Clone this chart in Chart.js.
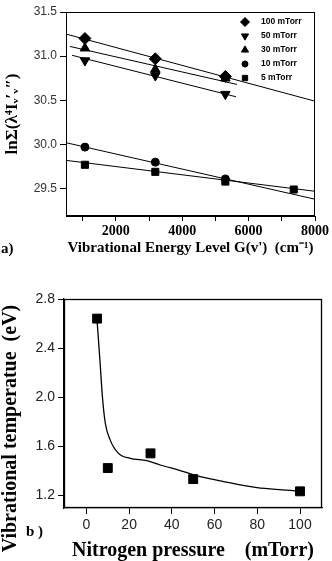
<!DOCTYPE html>
<html><head><meta charset="utf-8">
<script src="https://cdn.jsdelivr.net/npm/chart.js@4.4.1/dist/chart.umd.min.js"></script>
<style>
html,body{margin:0;padding:0;background:#fff;width:332px;height:561px;overflow:hidden;position:relative}
canvas{position:absolute;left:0}
#c1{top:0}
#c2{top:262px}
.lab{position:absolute;font:bold 15px "Liberation Serif",serif;color:#000;white-space:pre}
</style></head><body>
<canvas id="c1" width="332" height="262"></canvas>
<canvas id="c2" width="332" height="299"></canvas>
<div class="lab" style="left:1px;top:240px">a)</div>
<div class="lab" style="left:26px;top:523px">b )</div>
<script>
// ---------- Panel (a) data ----------
const levelG = [1070, 3190, 5300];
const levelG5 = [1070, 3190, 5300, 7360];
const ln_100 = [31.20, 30.97, 30.77];
const ln_50  = [30.95, 30.78, 30.57];
const ln_30  = [31.09, 30.85, 30.75];
const ln_10  = [29.97, 29.80, 29.61];
const ln_5   = [29.77, 29.69, 29.58, 29.49];
// fitted straight lines (end points)
const fit_100_x = [500, 8000],  fit_100_y = [31.25, 30.49];
const fit_50_x  = [680, 5620],  fit_50_y  = [31.01, 30.54];
const fit_30_x  = [620, 5650],  fit_30_y  = [31.11, 30.68];
const fit_10_x  = [500, 8000],  fit_10_y  = [30.02, 29.38];
const fit_5_x   = [500, 8000],  fit_5_y   = [29.82, 29.47];
const legendLabels = ['100 mTorr', '50 mTorr', '30 mTorr', '10 mTorr', '5 mTorr'];
const aXTicks = [1000, 2000, 3000, 4000, 5000, 6000, 7000, 8000];
const aXLabels = ['2000', '4000', '6000', '8000'];
const aYTicks = [29.5, 30.0, 30.5, 31.0, 31.5];

// ---------- Panel (b) data ----------
const pressure = [5, 10, 30, 50, 100];
const vibTemp  = [2.64, 1.42, 1.54, 1.33, 1.23];
const curveP = [5, 6.4, 7.5, 8.8, 11.1, 15, 20.5, 28.3, 34.5, 43.9, 53.3, 64.2, 79.9, 94, 100];
const curveT = [2.62, 2.28, 2.0, 1.79, 1.65, 1.54, 1.50, 1.48, 1.445, 1.40, 1.35, 1.31, 1.26, 1.24, 1.23];
const bXTicks = [0, 20, 40, 60, 80, 100];
const bYTicks = [1.2, 1.6, 2.0, 2.4, 2.8];

const pts = (xs, ys) => xs.map((x, i) => ({x, y: ys[i]}));
const serif = '"Liberation Serif", "Times New Roman", serif';
const sans = '"Liberation Sans", Arial, sans-serif';

const framePlugin = {
  id: 'frame',
  afterDraw(chart, args, opts) {
    const {ctx, chartArea: a} = chart;
    ctx.save();
    ctx.strokeStyle = '#000';
    ctx.lineWidth = opts.width || 1;
    ctx.strokeRect(Math.round(a.left) + 0.5, Math.round(a.top) + 0.5,
                   Math.round(a.right - a.left) - 1, Math.round(a.bottom - a.top) - 1);
    ctx.restore();
  }
};

const legendPlugin = {
  id: 'inLegend',
  afterDatasetsDraw(chart, args, opts) {
    if (!opts.labels) return;
    const {ctx, chartArea: a} = chart;
    ctx.save();
    opts.labels.forEach((t, i) => {
      const ds = chart.data.datasets[i];
      const y = a.top + 10 + i * 14;
      const x = a.right - 70;
      ctx.fillStyle = '#000';
      ctx.strokeStyle = '#000';
      Chart.helpers.drawPoint(ctx, {pointStyle: ds.pointStyle, rotation: ds.rotation || 0,
        radius: ds.pointRadius * 0.75, borderWidth: 1}, x, y);
      ctx.font = 'bold 8.5px ' + sans;
      ctx.textBaseline = 'middle';
      ctx.textAlign = 'left';
      ctx.fillText(t, x + 16, y);
    });
    ctx.restore();
  }
};

const markerDs = (label, data, style, r, rot) => ({
  label, data, pointStyle: style, pointRadius: r, rotation: rot || 0,
  backgroundColor: '#000', borderColor: '#000', borderWidth: 1, showLine: false, order: 0
});
const lineDs = (data, w) => ({
  data, showLine: true, pointRadius: 0, borderColor: '#000', borderWidth: w || 1,
  backgroundColor: '#000', fill: false, order: 1
});

new Chart(document.getElementById('c1'), {
  type: 'scatter',
  data: { datasets: [
    markerDs(legendLabels[0], pts(levelG, ln_100), 'rectRot', 6),
    markerDs(legendLabels[1], pts(levelG, ln_50), 'triangle', 5.5, 180),
    markerDs(legendLabels[2], pts(levelG, ln_30), 'triangle', 5.5),
    markerDs(legendLabels[3], pts(levelG, ln_10), 'circle', 4),
    markerDs(legendLabels[4], pts(levelG5, ln_5), 'rect', 5),
    lineDs(pts(fit_100_x, fit_100_y)),
    lineDs(pts(fit_50_x, fit_50_y)),
    lineDs(pts(fit_30_x, fit_30_y)),
    lineDs(pts(fit_10_x, fit_10_y)),
    lineDs(pts(fit_5_x, fit_5_y))
  ]},
  options: {
    responsive: false, animation: false, devicePixelRatio: 1,
    layout: { padding: {top: 12, right: 17, left: 0, bottom: 0} },
    plugins: { legend: {display: false}, tooltip: {enabled: false},
      inLegend: {labels: legendLabels}, frame: {width: 1} },
    scales: {
      x: { type: 'linear', min: 500, max: 8000,
        afterBuildTicks: s => { s.ticks = aXTicks.map(v => ({value: v})); },
        afterFit: s => { s.height = 46; },
        grid: {drawOnChartArea: false, drawTicks: true, tickLength: 5, color: '#000'},
        border: {display: true, color: '#000', width: 1},
        ticks: { autoSkip: false, maxRotation: 0, padding: 2, color: '#000',
          font: {family: serif, size: 14, weight: 'bold'},
          callback: v => aXLabels.includes(String(v)) ? String(v) : '' },
        title: { display: true, text: "Vibrational Energy Level G(v')  (cm\u207B\u00B9)", color: '#000',
          font: {family: serif, size: 15, weight: 'bold', lineHeight: 1.1}, padding: {top: 0, bottom: 6} }
      },
      y: { type: 'linear', min: 29.19, max: 31.5,
        afterBuildTicks: s => { s.ticks = aYTicks.map(v => ({value: v})); },
        afterFit: s => { s.width = 66; },
        grid: {drawOnChartArea: false, drawTicks: true, tickLength: 6, color: '#000'},
        border: {display: true, color: '#000', width: 1},
        ticks: { padding: 3, color: '#333', font: {family: sans, size: 12},
          callback: v => Number(v).toFixed(1) },
        title: { display: true, text: 'ln\u03A3(\u03BB\u2074I\u1D65\u2032\u1D65\u2033)', color: '#000',
          font: {family: serif, size: 17, weight: 'bold', lineHeight: 1.1}, padding: {top: 3, bottom: 0} }
      }
    }
  },
  plugins: [framePlugin, legendPlugin]
});

new Chart(document.getElementById('c2'), {
  type: 'scatter',
  data: { datasets: [
    markerDs('Vibrational temperature', pts(pressure, vibTemp), 'rect', 6.3),
    Object.assign(lineDs(pts(curveP, curveT), 1.3), {cubicInterpolationMode: 'monotone'})
  ]},
  options: {
    responsive: false, animation: false, devicePixelRatio: 1,
    layout: { padding: {top: 37, right: 10, left: 0, bottom: 0} },
    plugins: { legend: {display: false}, tooltip: {enabled: false}, frame: {width: 1.3} },
    scales: {
      x: { type: 'linear', min: -10.5, max: 110.3,
        afterBuildTicks: s => { s.ticks = bXTicks.map(v => ({value: v})); },
        afterFit: s => { s.height = 53; },
        grid: {drawOnChartArea: false, drawTicks: true, tickLength: 6, color: '#000'},
        border: {display: true, color: '#000', width: 1.3},
        ticks: { autoSkip: false, maxRotation: 0, padding: 3, color: '#222',
          font: {family: sans, size: 14} },
        title: { display: true, text: 'Nitrogen pressure    (mTorr)', color: '#000',
          font: {family: serif, size: 20, weight: 'bold', lineHeight: 1.0}, padding: {top: 0, bottom: 0} }
      },
      y: { type: 'linear', min: 1.094, max: 2.8,
        afterBuildTicks: s => { s.ticks = bYTicks.map(v => ({value: v})); },
        afterFit: s => { s.width = 64; },
        grid: {drawOnChartArea: false, drawTicks: true, tickLength: 6, color: '#000'},
        border: {display: true, color: '#000', width: 1.3},
        ticks: { padding: 3, color: '#222', font: {family: sans, size: 14},
          callback: v => Number(v).toFixed(1) },
        title: { display: true, text: 'Vibrational temperatue  (eV)          ', color: '#000',
          font: {family: serif, size: 20, weight: 'bold', lineHeight: 1.05}, padding: {top: 0, bottom: 0} }
      }
    }
  },
  plugins: [framePlugin]
});
</script>
</body></html>
